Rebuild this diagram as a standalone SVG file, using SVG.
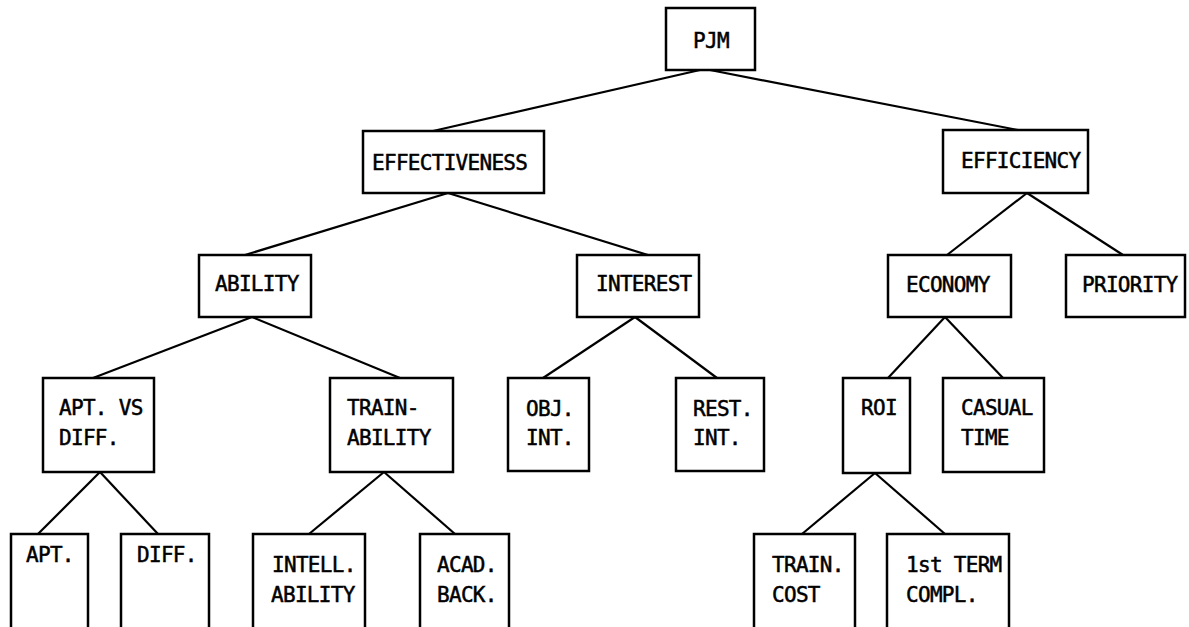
<svg xmlns="http://www.w3.org/2000/svg" width="1189" height="627" viewBox="0 0 1189 627">
<style>
rect{fill:#fff;stroke:#000;stroke-width:2.5}
line{stroke:#000;stroke-width:2.2}
text{font-family:"DejaVu Sans Mono","Liberation Mono",monospace;font-size:21px;letter-spacing:-0.7px;fill:#000;stroke:#000;stroke-width:0.5}
</style>
<rect x="0" y="0" width="1189" height="627" style="stroke:none"/>
<g id="connectors">
<line x1="700" y1="70" x2="433" y2="131"/>
<line x1="710" y1="70" x2="1018" y2="130"/>
<line x1="448" y1="193" x2="245" y2="255"/>
<line x1="448" y1="193" x2="648" y2="255"/>
<line x1="1027" y1="193" x2="947" y2="255"/>
<line x1="1027" y1="193" x2="1123" y2="255"/>
<line x1="252" y1="317" x2="93" y2="378"/>
<line x1="252" y1="317" x2="400" y2="378"/>
<line x1="635" y1="317" x2="543" y2="378"/>
<line x1="635" y1="317" x2="717" y2="378"/>
<line x1="945" y1="317" x2="888" y2="378"/>
<line x1="945" y1="317" x2="1003" y2="378"/>
<line x1="100" y1="472" x2="38" y2="534"/>
<line x1="100" y1="472" x2="158" y2="534"/>
<line x1="384" y1="472" x2="309" y2="534"/>
<line x1="384" y1="472" x2="455" y2="534"/>
<line x1="875" y1="473" x2="802" y2="534"/>
<line x1="875" y1="473" x2="945" y2="534"/>
</g>
<g id="pjm"><rect x="666" y="8" width="89" height="62"/><text x="693" y="48">PJM</text></g>
<g id="effectiveness"><rect x="363" y="131" width="181" height="62"/><text x="372" y="170">EFFECTIVENESS</text></g>
<g id="efficiency"><rect x="943" y="130" width="145" height="63"/><text x="961" y="168">EFFICIENCY</text></g>
<g id="ability"><rect x="199" y="255" width="112" height="62"/><text x="215" y="291">ABILITY</text></g>
<g id="interest"><rect x="577" y="255" width="122" height="62"/><text x="596" y="291">INTEREST</text></g>
<g id="economy"><rect x="888" y="255" width="123" height="62"/><text x="906" y="292">ECONOMY</text></g>
<g id="priority"><rect x="1066" y="255" width="119" height="62"/><text x="1082" y="292">PRIORITY</text></g>
<g id="apt-vs-diff"><rect x="43" y="378" width="111" height="94"/><text x="59" y="415">APT. VS</text><text x="59" y="445">DIFF.</text></g>
<g id="trainability"><rect x="330" y="378" width="123" height="94"/><text x="347" y="415">TRAIN-</text><text x="347" y="445">ABILITY</text></g>
<g id="obj-int"><rect x="508" y="378" width="81" height="93"/><text x="526" y="416">OBJ.</text><text x="526" y="445">INT.</text></g>
<g id="rest-int"><rect x="676" y="378" width="88" height="93"/><text x="693" y="416">REST.</text><text x="693" y="445">INT.</text></g>
<g id="roi"><rect x="843" y="378" width="67" height="95"/><text x="861" y="415">ROI</text></g>
<g id="casual-time"><rect x="943" y="378" width="101" height="94"/><text x="961" y="415">CASUAL</text><text x="961" y="445">TIME</text></g>
<g id="apt"><rect x="11" y="534" width="77" height="110"/><text x="26" y="562">APT.</text></g>
<g id="diff"><rect x="121" y="534" width="88" height="110"/><text x="137" y="562">DIFF.</text></g>
<g id="intell-ability"><rect x="253" y="534" width="112" height="110"/><text x="272" y="572">INTELL.</text><text x="271" y="602">ABILITY</text></g>
<g id="acad-back"><rect x="420" y="534" width="89" height="110"/><text x="437" y="572">ACAD.</text><text x="437" y="602">BACK.</text></g>
<g id="train-cost"><rect x="754" y="534" width="101" height="110"/><text x="772" y="572">TRAIN.</text><text x="772" y="602">COST</text></g>
<g id="first-term"><rect x="887" y="534" width="122" height="110"/><text x="906" y="572">1st TERM</text><text x="906" y="602">COMPL.</text></g>
</svg>
